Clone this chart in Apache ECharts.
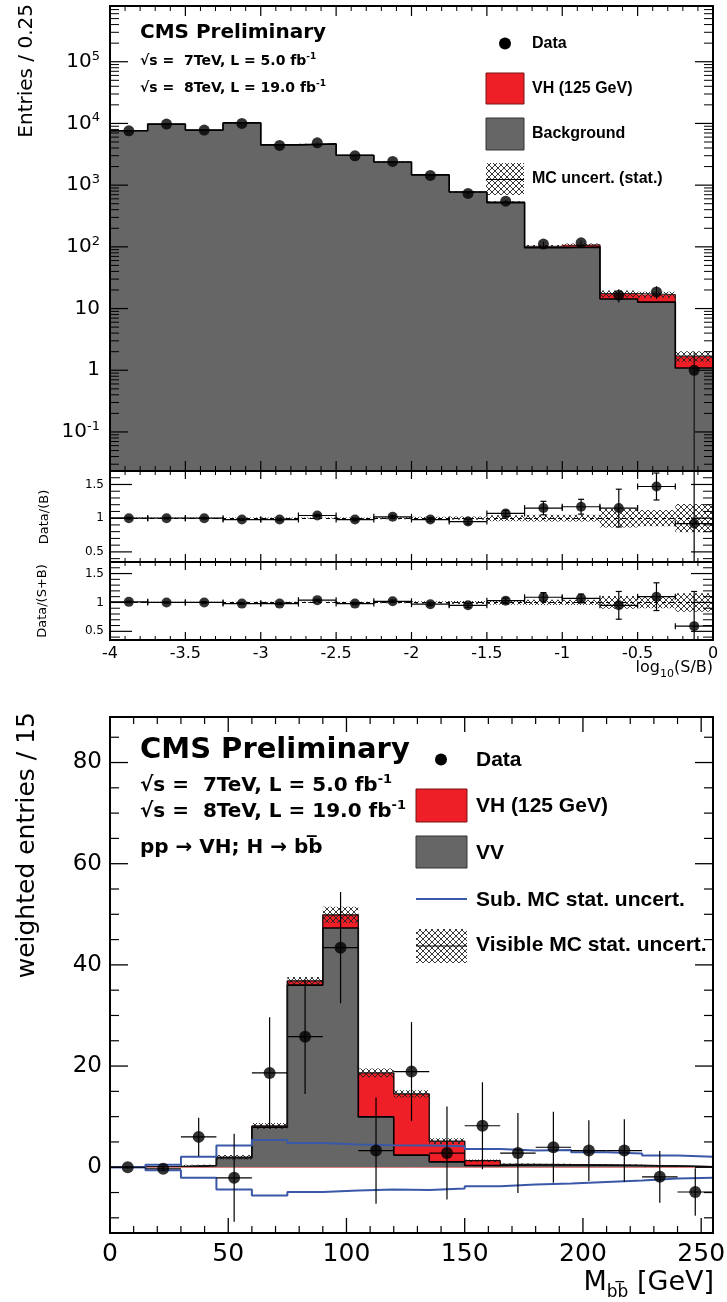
<!DOCTYPE html>
<html>
<head>
<meta charset="utf-8">
<script src="https://cdn.jsdelivr.net/npm/echarts@6.0.0/dist/echarts.min.js"></script>
<style>
html,body{margin:0;padding:0;background:#fff;}
#chart{width:727px;height:1302px;}
</style>
</head>
<body>
<div id="chart"></div>
<script>
// ================= DATA: top plot, log10(S/B) =================
const sbEdges = [-4, -3.75, -3.5, -3.25, -3, -2.75, -2.5, -2.25, -2, -1.75, -1.5, -1.25, -1, -0.75, -0.5, -0.25, 0];
const sbCenters = [-3.875, -3.625, -3.375, -3.125, -2.875, -2.625, -2.375, -2.125, -1.875, -1.625, -1.375, -1.125, -0.875, -0.625, -0.375, -0.125];
const sbData = [7600, 9750, 7800, 10000, 4400, 4850, 2990, 2420, 1436, 733, 550, 111, 116, 16.5, 18.6, 1.0];
const sbDataErr = [87, 99, 88, 100, 66, 70, 55, 49, 38, 27, 23, 10.5, 10.8, 4.1, 4.3, 1.0];
const sbBackground = [7600, 9750, 7800, 10200, 4490, 4660, 3050, 2370, 1465, 772, 520, 96.5, 99, 14.3, 12.7, 1.09];
const sbSignal = [0.3, 0.5, 0.6, 1.0, 1.3, 1.8, 2.4, 2.6, 3.1, 3.5, 12, 5.5, 9, 3.2, 4.2, 0.61];
const sbMcUnc = [60, 75, 60, 80, 40, 40, 40, 35, 30, 20, 17, 5, 5, 2.2, 1.9, 0.33];

// ratio panels
const ratioB = [1.0, 1.0, 1.0, 0.98, 0.98, 1.04, 0.98, 1.02, 0.98, 0.95, 1.07, 1.15, 1.17, 1.15, 1.47, 0.92];
const ratioBErr = [0.012, 0.011, 0.012, 0.011, 0.016, 0.015, 0.019, 0.021, 0.027, 0.037, 0.045, 0.1, 0.11, 0.28, 0.2, 1.0];
const ratioBBand = [0.01, 0.01, 0.01, 0.01, 0.01, 0.01, 0.012, 0.015, 0.02, 0.025, 0.045, 0.05, 0.05, 0.14, 0.12, 0.21];
const ratioSB = [1.01, 1.0, 1.0, 0.98, 0.98, 1.04, 0.98, 1.02, 0.97, 0.95, 1.03, 1.09, 1.07, 0.95, 1.10, 0.59];
const ratioSBErr = [0.012, 0.011, 0.012, 0.011, 0.016, 0.015, 0.019, 0.021, 0.027, 0.037, 0.045, 0.08, 0.075, 0.24, 0.24, 0.6];
const ratioSBBand = [0.01, 0.01, 0.01, 0.01, 0.01, 0.01, 0.012, 0.015, 0.02, 0.025, 0.04, 0.045, 0.045, 0.11, 0.10, 0.16];

// ================= DATA: bottom plot, M_bb =================
const mbbEdges = [0, 15, 30, 45, 60, 75, 90, 105, 120, 135, 150, 165, 180, 195, 210, 225, 240, 255];
const mbbCenters = [7.5, 22.5, 37.5, 52.5, 67.5, 82.5, 97.5, 112.5, 127.5, 142.5, 157.5, 172.5, 187.5, 202.5, 217.5, 232.5, 247.5];
const mbbData = [0.0, -0.3, 6.0, -2.1, 18.65, 25.8, 43.4, 3.3, 18.9, 2.8, 8.2, 2.8, 3.95, 3.3, 3.3, -1.9, -4.9];
const mbbDataErr = [0.25, 0.4, 3.8, 8.7, 11.0, 11.3, 11.0, 10.5, 9.8, 9.2, 8.6, 7.9, 7.0, 6.0, 6.2, 5.1, 4.7];
const mbbVV = [0.05, 0.05, 0.33, 1.9, 7.9, 36.0, 47.3, 9.95, 2.4, 1.06, 0.35, 0.45, 0.45, 0.4, 0.35, 0.25, 0.1];
const mbbVH = [0, 0, 0.02, 0.05, 0.25, 0.85, 2.6, 8.7, 12.1, 4.1, 0.95, 0.1, 0.05, 0.05, 0.02, 0.01, 0];
const mbbMcUnc = [0.05, 0.05, 0.15, 0.45, 0.6, 0.75, 1.6, 0.85, 0.7, 0.55, 0.25, 0.2, 0.2, 0.2, 0.15, 0.1, 0.05];
const mbbSubUp = [0, 0.5, 2.05, 4.3, 5.4, 4.8, 4.5, 4.35, 4.3, 4.15, 3.6, 3.3, 3.4, 2.95, 2.7, 2.3, 2.05];
const mbbSubDown = [0, -0.6, -2.1, -4.4, -5.6, -4.9, -4.6, -4.4, -4.5, -4.2, -3.75, -3.4, -3.2, -2.9, -2.6, -2.25, -2.1];

// ================= tick labels / tick positions =================
const logTickLabels = {'-1': '10{s|-1}', '0': '1', '1': '10', '2': '10{s|2}', '3': '10{s|3}', '4': '10{s|4}', '5': '10{s|5}'};
const logMajorTicks = [0.1, 1, 10, 100, 1000, 10000, 100000];
const logMinorDecades = [0.01, 0.1, 1, 10, 100, 1000, 10000, 100000];
const logMinorMult = [2, 3, 4, 5, 6, 7, 8, 9];
const ratioTickLabels = [0.5, 1, 1.5];
const ratioMinorTicks = [0.4, 0.6, 0.7, 0.8, 0.9, 1.1, 1.2, 1.3, 1.4, 1.6];
const sbXTickLabels = [-4, -3.5, -3, -2.5, -2, -1.5, -1, -0.5, 0];
const sbXMinorTicks = [-3.9, -3.8, -3.7, -3.6, -3.4, -3.3, -3.2, -3.1, -2.9, -2.8, -2.7, -2.6, -2.4, -2.3, -2.2, -2.1,
  -1.9, -1.8, -1.7, -1.6, -1.4, -1.3, -1.2, -1.1, -0.9, -0.8, -0.7, -0.6, -0.4, -0.3, -0.2, -0.1];
const mbbYTickLabels = [0, 20, 40, 60, 80];
const mbbYMinorTicks = [-10, -5, 5, 10, 15, 25, 30, 35, 45, 50, 55, 65, 70, 75, 85];
const mbbXTickLabels = [0, 50, 100, 150, 200, 250];
const mbbXMinorTicks = [10, 20, 30, 40, 60, 70, 80, 90, 110, 120, 130, 140, 160, 170, 180, 190, 210, 220, 230, 240];

// ================= style =================
const FONT = "'DejaVu Sans', sans-serif";
const LFONT = "'Liberation Sans', Arial, sans-serif";
const RED = '#ee1f26', GRAY = '#666666', BLUE = '#3a58a8';
const LOG_MIN = 0.0233, LOG_MAX = 8.0e5;

function makeHatch(size, color, lw) {
  const c = document.createElement('canvas');
  c.width = size; c.height = size;
  const g = c.getContext('2d');
  g.strokeStyle = color; g.lineWidth = lw;
  g.beginPath();
  g.moveTo(0, 0); g.lineTo(size, size);
  g.moveTo(size, 0); g.lineTo(0, size);
  g.stroke();
  return c;
}
const HATCH = {image: makeHatch(6, '#222', 0.9), repeat: 'repeat'};

const chart = echarts.init(document.getElementById('chart'), null, {renderer: 'canvas', width: 727, height: 1302});

// ----- helpers -----
function rectSeries(xi, yi, data, style, z, overlap) {
  const ov = overlap || 0;
  return {
    type: 'custom', xAxisIndex: xi, yAxisIndex: yi, z: z, silent: true,
    encode: {x: [0, 1], y: [2, 3]},
    data: data,
    renderItem(params, api) {
      const cs = params.coordSys;
      const a = api.coord([api.value(0), api.value(3)]);
      const b = api.coord([api.value(1), api.value(2)]);
      let y0 = Math.min(a[1], b[1]), y1 = Math.max(a[1], b[1]);
      y0 = Math.max(y0, cs.y); y1 = Math.min(y1, cs.y + cs.height);
      if (!(y1 > y0)) return null;
      const x0 = Math.max(cs.x, a[0] - ov), x1 = Math.min(cs.x + cs.width, b[0] + ov);
      return {type: 'rect', shape: {x: x0, y: y0, width: x1 - x0, height: y1 - y0}, style: style};
    }
  };
}
function stepLine(xi, yi, edges, vals, color, width, z, extra) {
  const d = vals.map((v, i) => [edges[i], v]);
  d.push([edges[edges.length - 1], vals[vals.length - 1]]);
  return Object.assign({
    type: 'line', xAxisIndex: xi, yAxisIndex: yi, step: 'end', data: d, symbol: 'none',
    lineStyle: {color: color, width: width}, z: z, silent: true
  }, extra || {});
}
function errSeries(xi, yi, xs, ys, errs, halfw, opts) {
  return {
    type: 'custom', xAxisIndex: xi, yAxisIndex: yi, z: 6, silent: true,
    encode: {x: 0, y: 1},
    data: xs.map((x, i) => [x, ys[i], errs[i]]),
    renderItem(params, api) {
      const cs = params.coordSys;
      const x = api.value(0), y = api.value(1), e = api.value(2);
      let lo = y - e;
      if (opts.floor !== undefined && lo < opts.floor) lo = opts.floor;
      const pc = api.coord([x, y]);
      let pt = api.coord([x, y + e])[1], pb = api.coord([x, lo])[1];
      const clampY = v => Math.max(cs.y, Math.min(cs.y + cs.height, v));
      pt = clampY(pt); pb = clampY(pb);
      const st = {stroke: '#000', lineWidth: opts.lw || 1};
      const ch = [{type: 'line', shape: {x1: pc[0], y1: pt, x2: pc[0], y2: pb}, style: st}];
      if (halfw) {
        const xl = api.coord([x - halfw, y])[0], xr = api.coord([x + halfw, y])[0];
        ch.push({type: 'line', shape: {x1: xl, y1: pc[1], x2: xr, y2: pc[1]}, style: st});
        if (opts.cap) {
          const c = opts.cap;
          ch.push({type: 'line', shape: {x1: xl, y1: pc[1] - c, x2: xl, y2: pc[1] + c}, style: st});
          ch.push({type: 'line', shape: {x1: xr, y1: pc[1] - c, x2: xr, y2: pc[1] + c}, style: st});
        }
      }
      if (opts.cap) {
        const c = opts.cap;
        const ycap = api.coord([x, y + e])[1], ycapb = api.coord([x, lo])[1];
        if (ycap >= cs.y) ch.push({type: 'line', shape: {x1: pc[0] - c, y1: ycap, x2: pc[0] + c, y2: ycap}, style: st});
        if (ycapb <= cs.y + cs.height) ch.push({type: 'line', shape: {x1: pc[0] - c, y1: ycapb, x2: pc[0] + c, y2: ycapb}, style: st});
      }
      return {type: 'group', children: ch};
    }
  };
}
function dots(xi, yi, xs, ys, size, extra) {
  return Object.assign({
    type: 'scatter', xAxisIndex: xi, yAxisIndex: yi, z: 7, silent: true,
    symbol: 'circle', symbolSize: size, itemStyle: {color: '#000'},
    data: xs.map((x, i) => [x, ys[i]])
  }, extra || {});
}
// ticks on left and right frame edges, pointing inward
function yTicks(xi, yi, xRef, vals, len, lw) {
  return {
    type: 'custom', xAxisIndex: xi, yAxisIndex: yi, z: 20, silent: true, clip: false,
    encode: {x: 0, y: 1},
    data: vals.map(v => [xRef, v]),
    renderItem(params, api) {
      const cs = params.coordSys;
      const y = api.coord([api.value(0), api.value(1)])[1];
      const st = {stroke: '#000', lineWidth: lw};
      return {type: 'group', children: [
        {type: 'line', shape: {x1: cs.x, y1: y, x2: cs.x + len, y2: y}, style: st},
        {type: 'line', shape: {x1: cs.x + cs.width - len, y1: y, x2: cs.x + cs.width, y2: y}, style: st}
      ]};
    }
  };
}
// ticks on bottom and top frame edges, pointing inward
function xTicks(xi, yi, yRef, vals, len, lw) {
  return {
    type: 'custom', xAxisIndex: xi, yAxisIndex: yi, z: 20, silent: true, clip: false,
    encode: {x: 0, y: 1},
    data: vals.map(v => [v, yRef]),
    renderItem(params, api) {
      const cs = params.coordSys;
      const x = api.coord([api.value(0), api.value(1)])[0];
      const st = {stroke: '#000', lineWidth: lw};
      return {type: 'group', children: [
        {type: 'line', shape: {x1: x, y1: cs.y + cs.height, x2: x, y2: cs.y + cs.height - len}, style: st},
        {type: 'line', shape: {x1: x, y1: cs.y, x2: x, y2: cs.y + len}, style: st}
      ]};
    }
  };
}

function near(v, list) { return list.some(t => Math.abs(v - t) < 1e-7); }

function xAx(gi, min, max, interval, label) {
  return {
    type: 'value', gridIndex: gi, position: 'bottom', min: min, max: max, interval: interval, z: 20,
    axisLine: {show: false}, splitLine: {show: false},
    axisTick: {show: false}, minorTick: {show: false},
    axisLabel: label || {show: false}
  };
}
function yAx(gi, min, max, splitNumber, label, type) {
  const a = {
    type: type || 'value', gridIndex: gi, position: 'left', min: min, max: max, splitNumber: splitNumber, z: 20,
    axisLine: {show: false}, splitLine: {show: false},
    axisTick: {show: false}, minorTick: {show: false},
    axisLabel: label || {show: false}
  };
  if (type === 'log') a.logBase = 10;
  return a;
}

// derived stack totals
const sbTotal = sbBackground.map((b, i) => b + sbSignal[i]);
const mbbTotal = mbbVV.map((v, i) => v + mbbVH[i]);

const logMinorTicks = [];
logMinorDecades.forEach(d => logMinorMult.forEach(m => { const v = d * m; if (v > LOG_MIN && v < LOG_MAX) logMinorTicks.push(v); }));

const gridBase = {show: true, borderColor: '#000', borderWidth: 2, backgroundColor: 'transparent', z: 20, containLabel: false, outerBoundsMode: 'none'};
const dashed1 = {silent: true, symbol: ['none', 'none'], label: {show: false},
  lineStyle: {color: '#000', width: 1, type: [4, 4]}, data: [{yAxis: 1}]};

const option = {
  animation: false,
  backgroundColor: '#ffffff',
  grid: [
    Object.assign({left: 110, top: 6, width: 603, height: 465}, gridBase),
    Object.assign({left: 110, top: 471, width: 603, height: 91}, gridBase),
    Object.assign({left: 110, top: 562, width: 603, height: 78}, gridBase),
    Object.assign({left: 110, top: 717, width: 603, height: 516}, gridBase)
  ],
  xAxis: [
    xAx(0, -4, 0, 0.5),
    xAx(1, -4, 0, 0.5),
    xAx(2, -4, 0, 0.5, {
      show: true, color: '#000', fontFamily: FONT, fontSize: 16, margin: 6,
      formatter: v => near(v, sbXTickLabels) ? String(v) : ''
    }),
    xAx(3, 0, 255, 50, {
      show: true, color: '#000', fontFamily: FONT, fontSize: 25, margin: 9,
      formatter: v => near(v, mbbXTickLabels) ? String(v) : ''
    })
  ],
  yAxis: [
    yAx(0, LOG_MIN, LOG_MAX, 7, {
      show: true, color: '#000', fontFamily: FONT, fontSize: 20, margin: 10, lineHeight: 24,
      formatter: v => { const e = Math.log10(v); const r = Math.round(e); return (Math.abs(e - r) < 1e-6 && logTickLabels[r] !== undefined) ? logTickLabels[r] : ''; },
      rich: {s: {fontFamily: FONT, fontSize: 13, verticalAlign: 'top', color: '#000'}}
    }, 'log'),
    yAx(1, 0.35, 1.7, 3, {
      show: true, color: '#000', fontFamily: FONT, fontSize: 12, margin: 6,
      formatter: v => near(v, ratioTickLabels) ? String(v) : ''
    }),
    yAx(2, 0.35, 1.7, 3, {
      show: true, color: '#000', fontFamily: FONT, fontSize: 12, margin: 6,
      formatter: v => near(v, ratioTickLabels) ? String(v) : ''
    }),
    yAx(3, -13, 89, 5, {
      show: true, color: '#000', fontFamily: FONT, fontSize: 23, margin: 8,
      formatter: v => near(v, mbbYTickLabels) ? String(v) : ''
    })
  ],
  series: [
    // ---------- top main panel ----------
    rectSeries(0, 0, sbBackground.map((b, i) => [sbEdges[i], sbEdges[i + 1], LOG_MIN, b]), {fill: GRAY}, 1, 0.6),
    rectSeries(0, 0, sbBackground.map((b, i) => [sbEdges[i], sbEdges[i + 1], b, sbTotal[i]]), {fill: RED}, 2, 0.6),
    rectSeries(0, 0, sbTotal.map((t, i) => [sbEdges[i], sbEdges[i + 1], t - sbMcUnc[i], t + sbMcUnc[i]]), {fill: HATCH}, 3, 0),
    stepLine(0, 0, sbEdges, sbTotal, '#222', 1, 4),
    stepLine(0, 0, sbEdges, sbBackground, '#000', 1.6, 4),
    errSeries(0, 0, sbCenters, sbData, sbDataErr, 0, {floor: LOG_MIN, lw: 1}),
    dots(0, 0, sbCenters, sbData, 11),
    yTicks(0, 0, -2, logMajorTicks, 18, 1.2),
    yTicks(0, 0, -2, logMinorTicks, 9, 1),
    xTicks(0, 0, 1, sbXTickLabels, 10, 1.2),
    xTicks(0, 0, 1, sbXMinorTicks, 5, 1),

    // ---------- ratio Data/(B) ----------
    rectSeries(1, 1, ratioBBand.map((h, i) => [sbEdges[i], sbEdges[i + 1], 1 - h, 1 + h]), {fill: HATCH}, 3, 0),
    errSeries(1, 1, sbCenters, ratioB, ratioBErr, 0.125, {cap: 3, lw: 1.2}),
    dots(1, 1, sbCenters, ratioB, 10, {markLine: dashed1}),
    yTicks(1, 1, -2, ratioTickLabels, 22, 1.2),
    yTicks(1, 1, -2, ratioMinorTicks, 10, 1),
    xTicks(1, 1, 1, sbXTickLabels, 8, 1.2),
    xTicks(1, 1, 1, sbXMinorTicks, 4, 1),

    // ---------- ratio Data/(S+B) ----------
    rectSeries(2, 2, ratioSBBand.map((h, i) => [sbEdges[i], sbEdges[i + 1], 1 - h, 1 + h]), {fill: HATCH}, 3, 0),
    errSeries(2, 2, sbCenters, ratioSB, ratioSBErr, 0.125, {cap: 3, lw: 1.2}),
    dots(2, 2, sbCenters, ratioSB, 10, {markLine: dashed1}),
    yTicks(2, 2, -2, ratioTickLabels, 22, 1.2),
    yTicks(2, 2, -2, ratioMinorTicks, 10, 1),
    xTicks(2, 2, 1, sbXTickLabels, 8, 1.2),
    xTicks(2, 2, 1, sbXMinorTicks, 4, 1),

    // ---------- bottom M_bb panel ----------
    rectSeries(3, 3, mbbVV.map((v, i) => [mbbEdges[i], mbbEdges[i + 1], 0, v]), {fill: GRAY}, 1, 0.6),
    rectSeries(3, 3, mbbVV.map((v, i) => [mbbEdges[i], mbbEdges[i + 1], v, mbbTotal[i]]), {fill: RED}, 2, 0.6),
    rectSeries(3, 3, mbbTotal.map((t, i) => [mbbEdges[i], mbbEdges[i + 1], t - mbbMcUnc[i], t + mbbMcUnc[i]]), {fill: HATCH}, 3, 0),
    stepLine(3, 3, mbbEdges, mbbVV, '#000', 1.6, 4, {
      markLine: {silent: true, symbol: ['none', 'none'], label: {show: false},
        lineStyle: {color: '#d88080', width: 1, type: 'solid'}, data: [{yAxis: 0}]}
    }),
    stepLine(3, 3, mbbEdges, mbbTotal, '#111', 1.3, 4),
    stepLine(3, 3, mbbEdges, mbbSubUp, BLUE, 2, 5),
    stepLine(3, 3, mbbEdges, mbbSubDown, BLUE, 2, 5),
    errSeries(3, 3, mbbCenters, mbbData, mbbDataErr, 7.5, {lw: 1.2}),
    dots(3, 3, mbbCenters, mbbData, 12),
    yTicks(3, 3, 100, mbbYTickLabels, 18, 1.3),
    yTicks(3, 3, 100, mbbYMinorTicks, 9, 1.2),
    xTicks(3, 3, 0, mbbXTickLabels, 15, 1.3),
    xTicks(3, 3, 0, mbbXMinorTicks, 7, 1.2)
  ],
  graphic: {elements: []}
};

// ---------- texts & legends ----------
const G = option.graphic.elements;
function txt(text, x, y, size, opts) {
  opts = opts || {};
  const el = {
    type: 'text', x: x, y: y, z: 100, silent: true,
    style: {
      text: text, fill: '#000', fontFamily: opts.family || FONT, fontSize: size,
      fontWeight: opts.bold ? 'bold' : 'normal',
      align: opts.align || 'left', verticalAlign: opts.va || 'middle'
    }
  };
  if (opts.lineHeight) el.style.lineHeight = opts.lineHeight;
  if (opts.rich) el.style.rich = opts.rich;
  if (opts.rotation) el.rotation = opts.rotation;
  return el;
}
const supRich = (size, fam, bold) => ({sup: {fontFamily: fam || FONT, fontSize: size, fontWeight: bold ? 'bold' : 'normal', verticalAlign: 'top', fill: '#000'}});
const subRich = (size, fam, bold) => ({sub: {fontFamily: fam || FONT, fontSize: size, fontWeight: bold ? 'bold' : 'normal', verticalAlign: 'bottom', fill: '#000'}});

// axis titles
G.push(txt('Entries / 0.25', 27, 4, 20, {align: 'right', rotation: Math.PI / 2}));
G.push(txt('Data/(B)', 45, 517, 13, {align: 'center', rotation: Math.PI / 2}));
G.push(txt('Data/(S+B)', 43, 601, 13, {align: 'center', rotation: Math.PI / 2}));
G.push(txt('log{sub|10}(S/B)', 713, 668, 16, {align: 'right', lineHeight: 24, rich: subRich(11)}));
G.push(txt('weighted entries / 15', 27, 712, 25, {align: 'right', rotation: Math.PI / 2}));
G.push(txt('M{sub|bb\u0305} [GeV]', 714, 1283, 27, {align: 'right', lineHeight: 36, rich: subRich(17)}));

// top annotations
G.push(txt('CMS Preliminary', 140, 32.5, 20, {bold: true}));
G.push(txt('\u221As =  7TeV, L = 5.0 fb{sup|-1}', 140, 61, 14, {bold: true, lineHeight: 18, rich: supRich(9, FONT, true)}));
G.push(txt('\u221As =  8TeV, L = 19.0 fb{sup|-1}', 140, 88, 14, {bold: true, lineHeight: 18, rich: supRich(9, FONT, true)}));

// top legend
G.push({type: 'circle', z: 100, silent: true, shape: {cx: 505, cy: 43.5, r: 6}, style: {fill: '#000'}});
G.push({type: 'rect', z: 100, silent: true, shape: {x: 486, y: 73, width: 38, height: 31}, style: {fill: RED, stroke: '#7a1515', lineWidth: 1}});
G.push({type: 'rect', z: 100, silent: true, shape: {x: 486, y: 118, width: 38, height: 32}, style: {fill: GRAY, stroke: '#333', lineWidth: 1}});
G.push({type: 'rect', z: 100, silent: true, shape: {x: 486, y: 163, width: 38, height: 32}, style: {fill: HATCH}});
G.push({type: 'line', z: 101, silent: true, shape: {x1: 486, y1: 179.5, x2: 524, y2: 179.5}, style: {stroke: '#000', lineWidth: 1}});
G.push(txt('Data', 532, 43.5, 16, {bold: true, family: LFONT}));
G.push(txt('VH (125 GeV)', 532, 88.5, 16, {bold: true, family: LFONT}));
G.push(txt('Background', 532, 133.5, 16, {bold: true, family: LFONT}));
G.push(txt('MC uncert. (stat.)', 532, 179, 16, {bold: true, family: LFONT}));

// bottom annotations
G.push(txt('CMS Preliminary', 140, 750, 29, {bold: true}));
G.push(txt('\u221As =  7TeV, L = 5.0 fb{sup|-1}', 140, 786, 20, {bold: true, lineHeight: 26, rich: supRich(13, FONT, true)}));
G.push(txt('\u221As =  8TeV, L = 19.0 fb{sup|-1}', 140, 812, 20, {bold: true, lineHeight: 26, rich: supRich(13, FONT, true)}));
G.push(txt('pp \u2192 VH; H \u2192 bb\u0305', 140, 848, 20, {bold: true}));

// bottom legend
G.push({type: 'circle', z: 100, silent: true, shape: {cx: 441, cy: 759.5, r: 6}, style: {fill: '#000'}});
G.push({type: 'rect', z: 100, silent: true, shape: {x: 416, y: 789, width: 51, height: 33}, style: {fill: RED, stroke: '#7a1515', lineWidth: 1}});
G.push({type: 'rect', z: 100, silent: true, shape: {x: 416, y: 836, width: 51, height: 32}, style: {fill: GRAY, stroke: '#333', lineWidth: 1}});
G.push({type: 'line', z: 100, silent: true, shape: {x1: 416, y1: 899, x2: 467, y2: 899}, style: {stroke: BLUE, lineWidth: 2}});
G.push({type: 'rect', z: 100, silent: true, shape: {x: 416, y: 929, width: 51, height: 34}, style: {fill: HATCH}});
G.push({type: 'line', z: 101, silent: true, shape: {x1: 416, y1: 946, x2: 467, y2: 946}, style: {stroke: '#000', lineWidth: 1}});
G.push(txt('Data', 476, 760, 21, {bold: true, family: LFONT}));
G.push(txt('VH (125 GeV)', 476, 806.5, 21, {bold: true, family: LFONT}));
G.push(txt('VV', 476, 853.5, 21, {bold: true, family: LFONT}));
G.push(txt('Sub. MC stat. uncert.', 476, 900, 21, {bold: true, family: LFONT}));
G.push(txt('Visible MC stat. uncert.', 476, 945.5, 21, {bold: true, family: LFONT}));

chart.setOption(option);
</script>
</body>
</html>
